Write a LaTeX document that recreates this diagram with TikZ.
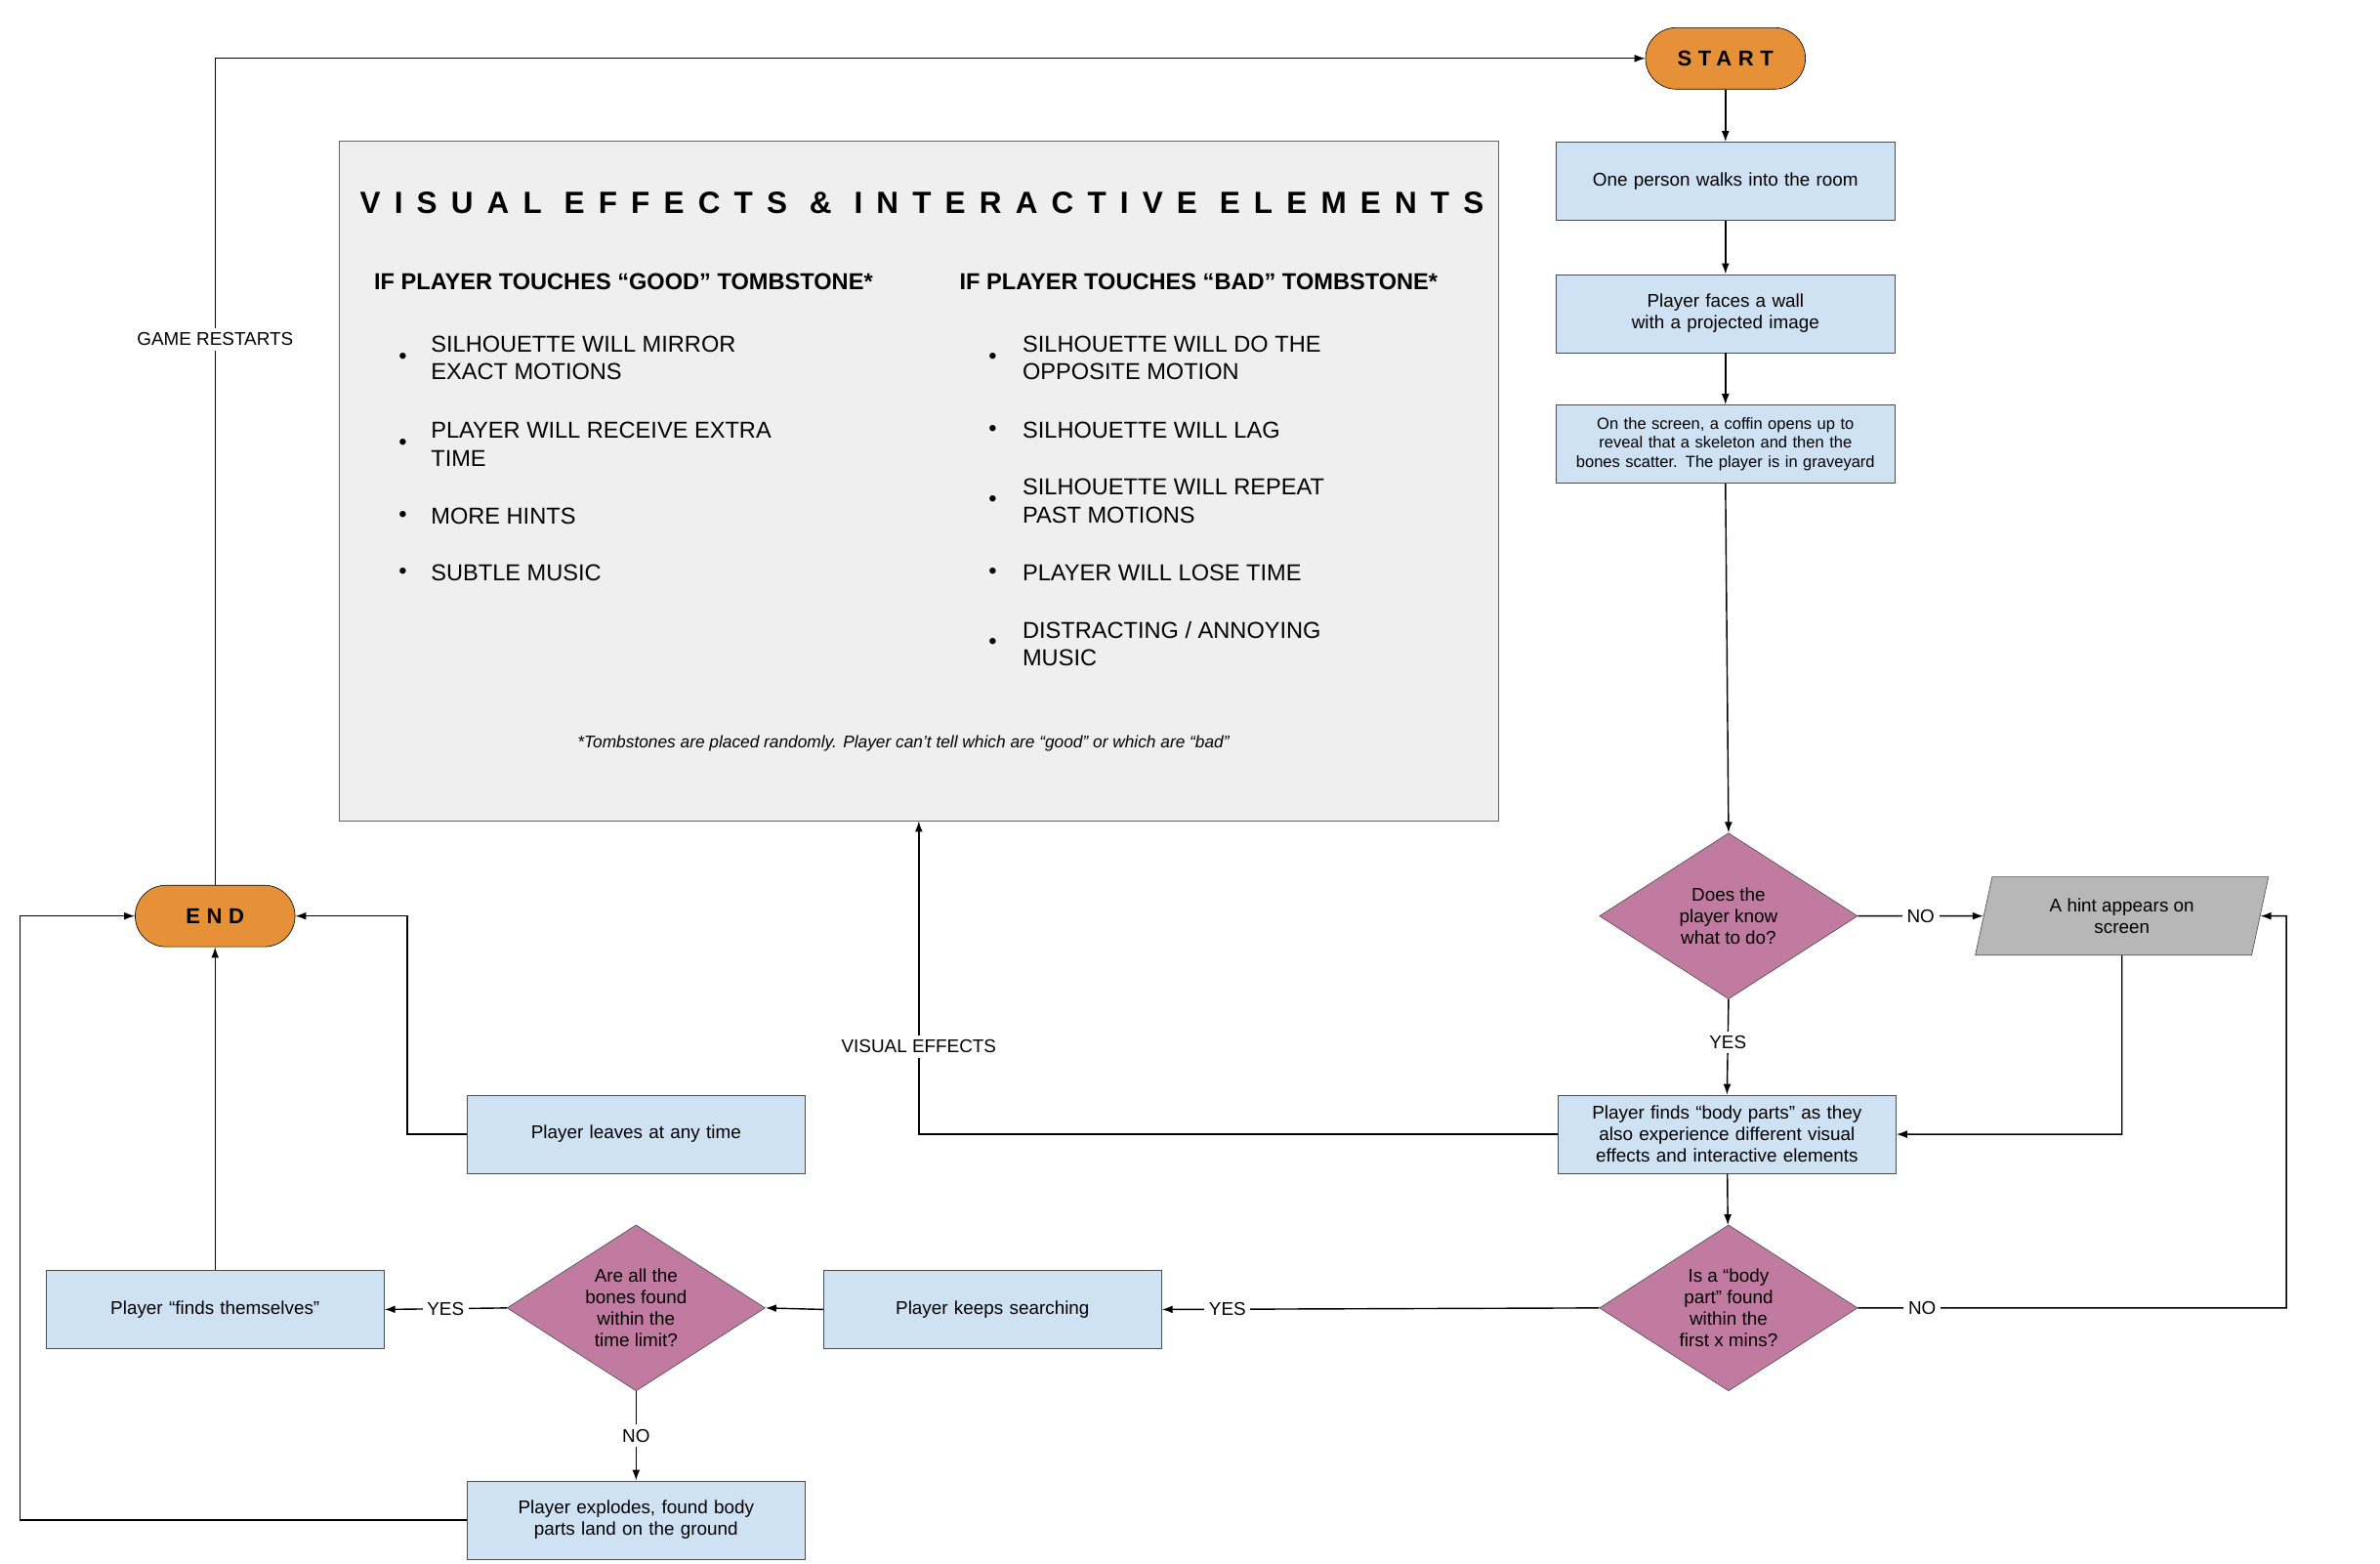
\documentclass[tikz,border=0pt]{standalone}
\usepackage{fontspec}
\setmainfont{Liberation Sans}
\usetikzlibrary{shapes.geometric,arrows.meta}
\definecolor{boxblue}{HTML}{CFE2F3}
\definecolor{orng}{HTML}{E69138}
\definecolor{purp}{HTML}{C27BA0}
\definecolor{gry}{HTML}{B7B7B7}
\definecolor{panel}{HTML}{EFEFEF}
\begin{document}
\begin{tikzpicture}[x=1pt,y=-1pt,
  >={Latex[length=7pt,width=5pt]},
  every node/.style={font=\fontsize{12}{14}\selectfont},
  box/.style={draw=black!70,fill=boxblue,minimum width=220pt,minimum height=51pt,align=center,text width=205pt,inner sep=2pt},
  pill/.style={draw=black,fill=orng,rounded corners=20pt,minimum width=104pt,minimum height=40pt,font=\fontsize{14}{16}\selectfont\bfseries\addfontfeature{LetterSpace=30}},
  dia/.style={draw=black!70,fill=purp,diamond,aspect=1.55,minimum width=168pt,minimum height=108pt,inner sep=0pt,align=center},
  lbl/.style={fill=white,inner sep=3pt,font=\fontsize{12}{14}\selectfont},
  ln/.style={draw,line width=0.9pt},
  big/.style={font=\fontsize{15}{18}\selectfont,anchor=west,align=left},
  hd/.style={font=\fontsize{15}{18}\selectfont\bfseries,anchor=west}]
\useasboundingbox (0,0) rectangle (1549,1017);
% panel
\node[draw=black!60,fill=panel,minimum width=754pt,minimum height=442pt,inner sep=0] (panel) at (598,313) {};
\node[font=\fontsize{20}{22}\selectfont\bfseries\addfontfeature{LetterSpace=45}] (title) at (600,132) {VISUAL EFFECTS \& INTERACTIVE ELEMENTS};
\node[hd] (h1) at (240,183) {IF PLAYER TOUCHES “GOOD” TOMBSTONE*};
\node[hd] (h2) at (621,183) {IF PLAYER TOUCHES “BAD” TOMBSTONE*};
\foreach \y/\t [count=\i] in {233/{SILHOUETTE WILL MIRROR\\EXACT MOTIONS},289/{PLAYER WILL RECEIVE EXTRA\\TIME},336/{MORE HINTS},373/{SUBTLE MUSIC}}{
  \node[big] (lb\i) at (256,\y) {•};
  \node[big] (lt\i) at (277,\y) {\t};}
\foreach \y/\t [count=\i] in {233/{SILHOUETTE WILL DO THE\\OPPOSITE MOTION},280/{SILHOUETTE WILL LAG},326/{SILHOUETTE WILL REPEAT\\PAST MOTIONS},373/{PLAYER WILL LOSE TIME},419/{DISTRACTING / ANNOYING\\MUSIC}}{
  \node[big] (rb\i) at (640,\y) {•};
  \node[big] (rt\i) at (662,\y) {\t};}
\node[font=\fontsize{11}{13}\selectfont\itshape] (fn) at (588,484) {*Tombstones are placed randomly. Player can’t tell which are “good” or which are “bad”};
% nodes
\node[pill] (start) at (1123,38) {START};
\node[pill] (end) at (140,596) {END};
\node[box] (b1) at (1123,118) {One person walks into the room};
\node[box] (b2) at (1123,204) {Player faces a wall with a projected image};
\node[box,font=\fontsize{10.5}{12.5}\selectfont] (b3) at (1123,289) {On the screen, a coffin opens up to reveal that a skeleton and then the bones scatter. The player is in graveyard};
\node[dia] (d1) at (1125,596) {Does the\\player know\\what to do?};
\node[draw=black!70,fill=gry,trapezium,trapezium left angle=75,trapezium right angle=105,minimum width=191pt,minimum height=51pt,trapezium stretches=true,align=center,inner sep=0pt] (hint) at (1381,596) {A hint appears on\\screen};
\node[box] (b4) at (1124,738) {Player finds “body parts” as they also experience different visual effects and interactive elements};
\node[dia] (d2) at (1125,851) {Is a “body\\part” found\\within the\\first x mins?};
\node[box] (ks) at (646,852) {Player keeps searching};
\node[dia] (d3) at (414,851) {Are all the\\bones found\\within the\\time limit?};
\node[box] (ft) at (140,852) {Player “finds themselves”};
\node[box] (ex) at (414,989) {Player explodes, found body parts land on the ground};
\node[box] (lv) at (414,738) {Player leaves at any time};
\coordinate (c1) at (1381,738);
\coordinate (c2) at (1488,851);
\coordinate (c3) at (1488,596);
\coordinate (c4) at (13,989);
\coordinate (c5) at (13,596);
\coordinate (c6) at (265,738);
\coordinate (c7) at (265,596);
\coordinate (c8) at (598,738);
\coordinate (c9) at (140,38);
% edges
\draw[ln,->] (start) -- (b1);
\draw[ln,->] (b1) -- (b2);
\draw[ln,->] (b2) -- (b3);
\draw[ln,->] (b3.south) -- (d1.north);
\draw[ln,->] (d1.east) -- node[lbl] {NO} (hint.west);
\draw[ln,->] (hint.south) -- (c1) -- (b4.east);
\draw[ln,->] (d1.south) -- node[lbl,pos=0.45] {YES} (b4.north);
\draw[ln,->] (b4) -- (d2);
\draw[ln,->] (d2.east) -- node[lbl,pos=0.15] {NO} (c2) -- (c3) -- (hint.east);
\draw[ln,->] (d2.west) -- node[lbl,pos=0.85] {YES} (ks.east);
\draw[ln,->] (ks.west) -- (d3.east);
\draw[ln,->] (d3.west) -- node[lbl] {YES} (ft.east);
\draw[ln,->] (d3.south) -- node[lbl] {NO} (ex.north);
\draw[ln,->] (ft.north) -- (end.south);
\draw[ln,->] (ex.west) -- (c4) -- (c5) -- (end.west);
\draw[ln,->] (lv.west) -- (c6) -- (c7) -- (end.east);
\draw[ln,->] (b4.west) -- (c8) -- node[lbl,pos=0.28] {VISUAL EFFECTS} (panel.south);
\draw[ln,->] (end.north) -- node[lbl,pos=0.66] {GAME RESTARTS} (c9) -- (start.west);
\end{tikzpicture}
\end{document}
